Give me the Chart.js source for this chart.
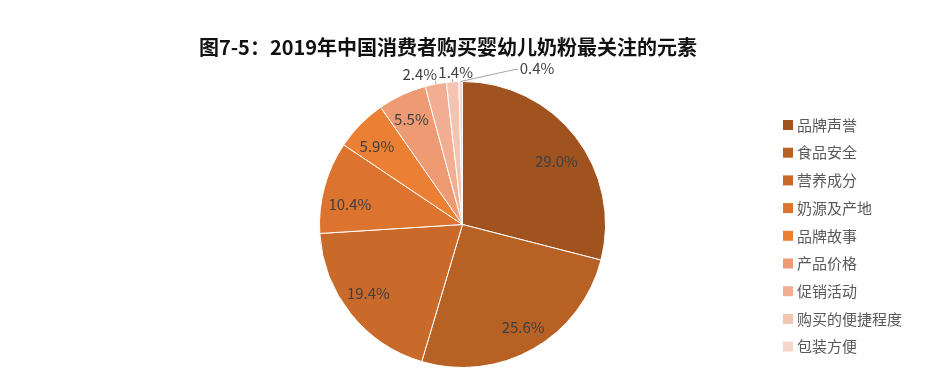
<!DOCTYPE html>
<html>
<head>
<meta charset="utf-8">
<script src="https://cdn.jsdelivr.net/npm/chart.js@4.4.1/dist/chart.umd.min.js"></script>
<style>
  html, body { margin: 0; padding: 0; background: #fff; }
  #wrap { position: relative; width: 944px; height: 377px; }
</style>
</head>
<body>
<div id="wrap"><canvas id="c" width="944" height="377"></canvas></div>
<script>
// 图7-5 data
const TITLE = "图7-5：2019年中国消费者购买婴幼儿奶粉最关注的元素";
const categories = ["品牌声誉", "食品安全", "营养成分", "奶源及产地", "品牌故事", "产品价格", "促销活动", "购买的便捷程度", "包装方便"];
const shares = [29.0, 25.6, 19.4, 10.4, 5.9, 5.5, 2.4, 1.4, 0.4];
const colors = ["#A0521F", "#B86125", "#C9692A", "#DC7430", "#EB7F34", "#EE9A72", "#F2AE93", "#F4C4B2", "#F6D6CA"];

// label placement: fraction of radius + small angle nudge (deg) for inside labels, null = outside
const labelRadius = [0.79, 0.835, 0.815, 0.80, 0.81, 0.82, null, null, null];
const labelNudge = [4, -1, 2.4, -4.8, -2.1, -0.8, 0, 0, 0];
// outside label offsets from the slice's outer point
const outsideOffset = { 6: [-16, -10], 7: [3, -9.5], 8: [59, -13] };

const FONT = '"Noto Sans CJK SC", "Noto Sans", sans-serif';

const labelsPlugin = {
  id: "sliceLabels",
  afterDatasetsDraw(chart) {
    const { ctx } = chart;
    const meta = chart.getDatasetMeta(0);
    ctx.save();
    ctx.font = "15px " + FONT;
    ctx.fillStyle = "#404040";
    ctx.textAlign = "center";
    ctx.textBaseline = "middle";
    meta.data.forEach((arc, i) => {
      const { x, y, startAngle, endAngle, outerRadius } = arc.getProps(["x", "y", "startAngle", "endAngle", "outerRadius"], true);
      const mid = (startAngle + endAngle) / 2;
      const txt = shares[i].toFixed(1) + "%";
      const f = labelRadius[i];
      if (f !== null) {
        const a = mid + labelNudge[i] * Math.PI / 180;
        ctx.fillText(txt, x + Math.cos(a) * outerRadius * f, y + Math.sin(a) * outerRadius * f);
        return;
      }
      // outside labels with short leader lines
      const ex = x + Math.cos(mid) * outerRadius;
      const ey = y + Math.sin(mid) * outerRadius;
      const [dx, dy] = outsideOffset[i];
      ctx.strokeStyle = "#A6A6A6";
      ctx.lineWidth = 1;
      ctx.beginPath();
      if (i === 8) {
        ctx.moveTo(ex, ey);
        ctx.lineTo(ex + dx - 5, ey + dy + 1);
        ctx.lineTo(ex + dx - 2, ey + dy + 1);
        ctx.stroke();
        ctx.textAlign = "left";
        ctx.fillText(txt, ex + dx, ey + dy);
        ctx.textAlign = "center";
      } else {
        ctx.moveTo(ex, ey);
        ctx.lineTo(ex, ey - 3);
        ctx.stroke();
        ctx.fillText(txt, ex + dx, ey + dy);
      }
    });
    ctx.restore();
  },
  afterDraw(chart) {
    const { ctx } = chart;
    ctx.save();
    // title
    ctx.font = "bold 20px " + FONT;
    ctx.fillStyle = "#111";
    ctx.textAlign = "center";
    ctx.textBaseline = "middle";
    ctx.fillText(TITLE, 448, 47);
    // legend
    ctx.font = "15px " + FONT;
    ctx.textAlign = "left";
    categories.forEach((name, i) => {
      const yy = 125 + i * 27.7;
      ctx.fillStyle = colors[i];
      ctx.fillRect(783, yy - 5, 10, 10);
      ctx.fillStyle = "#595959";
      ctx.fillText(name, 797, yy);
    });
    ctx.restore();
  },
};

new Chart(document.getElementById("c"), {
  type: "pie",
  data: {
    labels: categories,
    datasets: [{
      data: shares,
      backgroundColor: colors,
      borderColor: "#ffffff",
      borderWidth: 1,
    }],
  },
  options: {
    responsive: false,
    animation: false,
    layout: { padding: { top: 81, bottom: 9, left: 0, right: 19 } },
    plugins: {
      legend: { display: false },
      title: { display: false },
      tooltip: { enabled: false },
    },
  },
  plugins: [labelsPlugin],
});
</script>
</body>
</html>
